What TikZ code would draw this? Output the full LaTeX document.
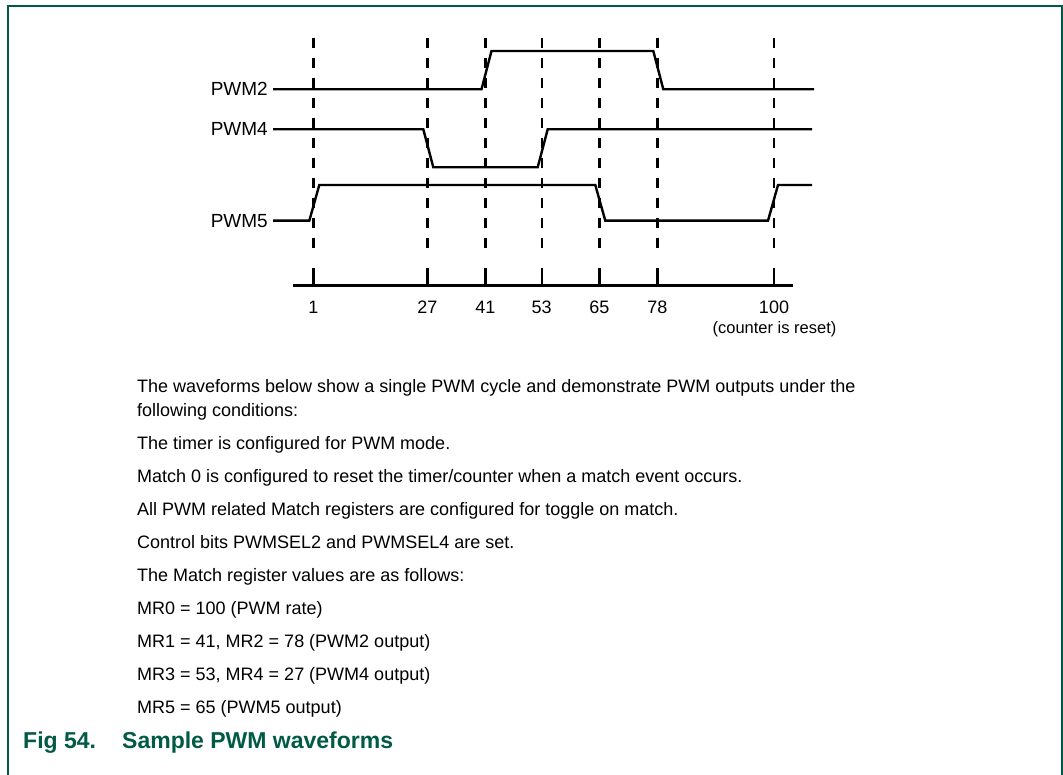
\documentclass[tikz,border=0pt]{standalone}
\usepackage{fontspec}
\setmainfont{Liberation Sans}
\definecolor{nxpgreen}{RGB}{0,90,70}
\begin{document}
\begin{tikzpicture}[x=1pt,y=-1pt,
  wave/.style={line width=2.4pt},
  gridline/.style={line width=2.4pt, dash pattern=on 10pt off 10pt},
  lbl/.style={font=\fontsize{19}{22}\selectfont, inner sep=0pt, anchor=base east},
  num/.style={font=\fontsize{18}{22}\selectfont, inner sep=0pt, anchor=base},
  note/.style={font=\fontsize{16.5}{20}\selectfont, inner sep=0pt, anchor=base},
  body/.style={font=\fontsize{18}{22}\selectfont, inner sep=0pt, anchor=base west},
  capt/.style={font=\fontsize{23}{27}\selectfont\bfseries, text=nxpgreen, inner sep=0pt, anchor=base west}]
\useasboundingbox (0,0) rectangle (1063,775);
\draw[nxpgreen, line width=2pt] (8,775) -- (8,6) -- (1062,6) -- (1062,775);
% grid lines
\foreach \x in {313.3,427.3,485.3,541.7,599.3,657.3,774} {
  \draw[gridline] (\x,38) -- (\x,256);
  \draw[wave] (\x,268.5) -- (\x,285.5);
}
\draw[wave] (293,285.5) -- (793,285.5);
% tick labels
\node[num] (t1) at (313.3,313.5) {1};
\node[num] (t27) at (427.3,313.5) {27};
\node[num] (t41) at (485.3,313.5) {41};
\node[num] (t53) at (541.7,313.5) {53};
\node[num] (t65) at (599.3,313.5) {65};
\node[num] (t78) at (657.3,313.5) {78};
\node[num] (t100) at (774,313.5) {100};
\node[note] (reset) at (774.5,334) {(counter is reset)};
% signal labels
\node[lbl] (pwm2) at (268,96) {PWM2};
\node[lbl] (pwm4) at (268,136) {PWM4};
\node[lbl] (pwm5) at (268,227.5) {PWM5};
% waveforms
\draw[wave] (273,89.3) -- (481.5,89.3) -- (491.5,51) -- (653.3,51) -- (663.3,89.3) -- (814,89.3);
\draw[wave] (273,129.3) -- (423.3,129.3) -- (433.3,167.3) -- (537.7,167.3) -- (547.7,129.3) -- (812,129.3);
\draw[wave] (273,220.7) -- (309.3,220.7) -- (319.3,185) -- (595.3,185) -- (605.3,220.7) -- (768,220.7) -- (778,185) -- (812,185);
% body text
\node[body] (l1) at (137,392.4) {The waveforms below show a single PWM cycle and demonstrate PWM outputs under the};
\node[body] (l2) at (137,416.4) {following conditions:};
\node[body] (l3) at (137,449.4) {The timer is configured for PWM mode.};
\node[body] (l4) at (137,482.4) {Match 0 is configured to reset the timer/counter when a match event occurs.};
\node[body] (l5) at (137,515.4) {All PWM related Match registers are configured for toggle on match.};
\node[body] (l6) at (137,548.4) {Control bits PWMSEL2 and PWMSEL4 are set.};
\node[body] (l7) at (137,581.4) {The Match register values are as follows:};
\node[body] (l8) at (137,614.4) {MR0 = 100 (PWM rate)};
\node[body] (l9) at (137,647.4) {MR1 = 41, MR2 = 78 (PWM2 output)};
\node[body] (l10) at (137,680.4) {MR3 = 53, MR4 = 27 (PWM4 output)};
\node[body] (l11) at (137,713.4) {MR5 = 65 (PWM5 output)};
% caption
\node[capt] (fig) at (23,748) {Fig 54.};
\node[capt] (title) at (122,748) {Sample PWM waveforms};
\end{tikzpicture}
\end{document}
